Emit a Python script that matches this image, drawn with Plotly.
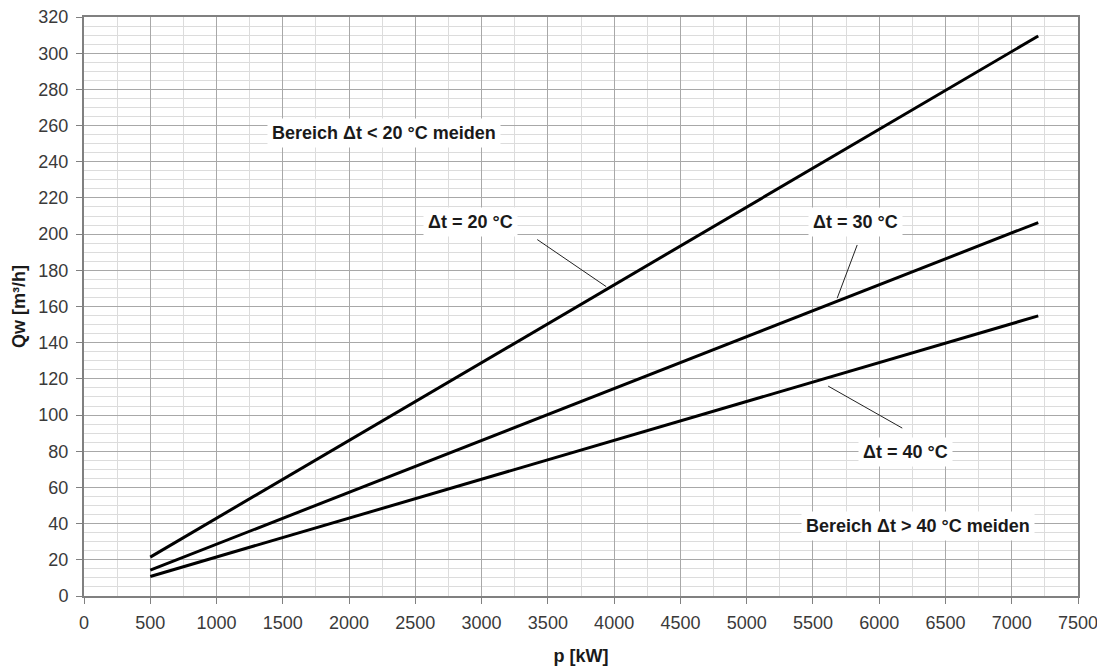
import plotly.graph_objects as go

# Data
p_kw = [500, 7200]
q_dt20 = [21.5, 309.5]
q_dt30 = [14.3, 206.4]
q_dt40 = [10.8, 154.8]

x_ticks = list(range(0, 7501, 500))
y_ticks = list(range(0, 321, 20))

FONT = "Liberation Sans, Arial, Helvetica, sans-serif"
TXT = "#1a1a1a"
TICK = "#3a3a3a"

fig = go.Figure()
for q in (q_dt20, q_dt30, q_dt40):
    fig.add_trace(go.Scatter(x=p_kw, y=q, mode="lines",
                             line=dict(color="#000000", width=3),
                             showlegend=False, hoverinfo="skip"))

labels = [
    ("Bereich Δt < 20 °C meiden", 2265, 256),
    ("Δt = 20 °C", 2913, 206.5),
    ("Δt = 30 °C", 5819, 206.5),
    ("Δt = 40 °C", 6196, 79.6),
    ("Bereich Δt > 40 °C meiden", 6294, 38.7),
]
for text, x, y in labels:
    fig.add_annotation(x=x, y=y, text="<b>%s</b>" % text, showarrow=False,
                       font=dict(family=FONT, size=18, color=TXT),
                       bgcolor="white", borderpad=4)

leaders = [
    (3420, 197.0, 3940, 171.0),
    (5834, 194.0, 5683, 164.6),
    (5615, 116.0, 6174, 92.8),
]
for x0, y0, x1, y1 in leaders:
    fig.add_shape(type="line", x0=x0, y0=y0, x1=x1, y1=y1, xref="x", yref="y",
                  line=dict(color="#222222", width=1))

# page body has an 8px margin; plot area spans x 84..1078, y 17..596 in the window
fig.update_layout(
    width=1097, height=658,
    margin=dict(l=76, r=27, t=9, b=70, autoexpand=False),
    paper_bgcolor="white", plot_bgcolor="white",
    font=dict(family=FONT, size=18, color=TICK),
    showlegend=False,
)
fig.update_xaxes(
    range=[0, 7500], tickvals=x_ticks, ticktext=[str(v) for v in x_ticks],
    showgrid=True, gridcolor="#a8a8a8", gridwidth=1,
    minor=dict(dtick=250, showgrid=True, gridcolor="#dcdcdc", gridwidth=1),
    showline=True, linecolor="#808080", linewidth=2, mirror=True,
    ticks="outside", ticklen=6, tickcolor="#808080", automargin=False,
    zeroline=False, tickfont=dict(size=18, color=TICK), ticklabelstandoff=3,
    ticklabeloverflow="allow",
    title=dict(text="<b>p [kW]</b>", font=dict(size=18, color=TXT), standoff=22),
)
fig.update_yaxes(
    range=[0, 320], tickvals=y_ticks, ticktext=[str(v) for v in y_ticks],
    showgrid=True, gridcolor="#a8a8a8", gridwidth=1,
    minor=dict(dtick=5, showgrid=True, gridcolor="#dcdcdc", gridwidth=1),
    showline=True, linecolor="#808080", linewidth=2, mirror=True,
    ticks="outside", ticklen=6, tickcolor="#808080", automargin=False,
    zeroline=False, tickfont=dict(size=18, color=TICK), ticklabelstandoff=4,
    ticklabeloverflow="allow",
    title=dict(text="<b>Qw [m³/h]</b>", font=dict(size=18, color=TXT), standoff=8),
)

fig.write_html("out.html")
